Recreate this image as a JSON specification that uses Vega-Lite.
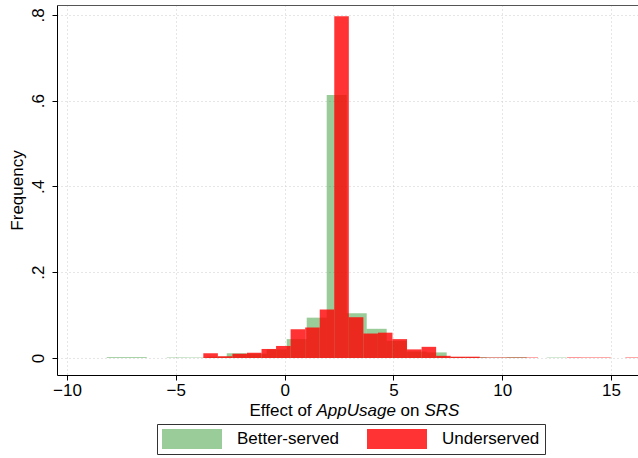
{
  "$schema": "https://vega.github.io/schema/vega-lite/v6.json",
  "width": 581,
  "height": 370,
  "autosize": {"type": "none"},
  "padding": {"left": 57, "top": 5, "right": 0, "bottom": 83},
  "background": "white",
  "config": {"font": "Liberation Sans", "view": {"stroke": null}},
  "data": {
    "values": [
      {"group": "Better-served", "start": -8.174, "end": -7.255, "freq": 0.002},
      {"group": "Better-served", "start": -7.255, "end": -6.336, "freq": 0.002},
      {"group": "Better-served", "start": -5.417, "end": -4.498, "freq": 0.001},
      {"group": "Better-served", "start": -4.498, "end": -3.579, "freq": 0.001},
      {"group": "Better-served", "start": -3.579, "end": -2.660, "freq": 0.003},
      {"group": "Better-served", "start": -2.660, "end": -1.741, "freq": 0.011},
      {"group": "Better-served", "start": -1.741, "end": -0.822, "freq": 0.010},
      {"group": "Better-served", "start": -0.822, "end": 0.097, "freq": 0.020},
      {"group": "Better-served", "start": 0.097, "end": 1.016, "freq": 0.044},
      {"group": "Better-served", "start": 1.016, "end": 1.935, "freq": 0.094},
      {"group": "Better-served", "start": 1.935, "end": 2.854, "freq": 0.613},
      {"group": "Better-served", "start": 2.854, "end": 3.773, "freq": 0.104},
      {"group": "Better-served", "start": 3.773, "end": 4.692, "freq": 0.068},
      {"group": "Better-served", "start": 4.692, "end": 5.611, "freq": 0.040},
      {"group": "Better-served", "start": 5.611, "end": 6.530, "freq": 0.015},
      {"group": "Better-served", "start": 6.530, "end": 7.449, "freq": 0.013},
      {"group": "Better-served", "start": 7.449, "end": 8.368, "freq": 0.002},
      {"group": "Better-served", "start": 8.368, "end": 9.287, "freq": 0.002},
      {"group": "Better-served", "start": 9.287, "end": 10.206, "freq": 0.001},
      {"group": "Better-served", "start": 10.206, "end": 11.125, "freq": 0.002},
      {"group": "Better-served", "start": 12.044, "end": 12.963, "freq": 0.001},
      {"group": "Underserved", "start": -3.736, "end": -3.067, "freq": 0.011},
      {"group": "Underserved", "start": -3.067, "end": -2.399, "freq": 0.004},
      {"group": "Underserved", "start": -2.399, "end": -1.730, "freq": 0.010},
      {"group": "Underserved", "start": -1.730, "end": -1.061, "freq": 0.012},
      {"group": "Underserved", "start": -1.061, "end": -0.393, "freq": 0.021},
      {"group": "Underserved", "start": -0.393, "end": 0.276, "freq": 0.028},
      {"group": "Underserved", "start": 0.276, "end": 0.945, "freq": 0.067},
      {"group": "Underserved", "start": 0.945, "end": 1.614, "freq": 0.071},
      {"group": "Underserved", "start": 1.614, "end": 2.282, "freq": 0.113},
      {"group": "Underserved", "start": 2.282, "end": 2.951, "freq": 0.797},
      {"group": "Underserved", "start": 2.951, "end": 3.620, "freq": 0.095},
      {"group": "Underserved", "start": 3.620, "end": 4.288, "freq": 0.057},
      {"group": "Underserved", "start": 4.288, "end": 4.957, "freq": 0.059},
      {"group": "Underserved", "start": 4.957, "end": 5.626, "freq": 0.044},
      {"group": "Underserved", "start": 5.626, "end": 6.294, "freq": 0.020},
      {"group": "Underserved", "start": 6.294, "end": 6.963, "freq": 0.026},
      {"group": "Underserved", "start": 6.963, "end": 7.632, "freq": 0.005},
      {"group": "Underserved", "start": 7.632, "end": 8.301, "freq": 0.003},
      {"group": "Underserved", "start": 8.301, "end": 8.969, "freq": 0.003},
      {"group": "Underserved", "start": 8.969, "end": 9.638, "freq": 0.001},
      {"group": "Underserved", "start": 9.638, "end": 10.307, "freq": 0.001},
      {"group": "Underserved", "start": 10.307, "end": 10.975, "freq": 0.001},
      {"group": "Underserved", "start": 10.975, "end": 11.644, "freq": 0.001},
      {"group": "Underserved", "start": 12.981, "end": 13.650, "freq": 0.001},
      {"group": "Underserved", "start": 13.650, "end": 14.319, "freq": 0.001},
      {"group": "Underserved", "start": 14.319, "end": 14.987, "freq": 0.001},
      {"group": "Underserved", "start": 15.656, "end": 16.325, "freq": 0.001}
    ]
  },
  "layer": [
    {
      "mark": {"type": "bar", "clip": true},
      "encoding": {
        "x": {
          "field": "start",
          "type": "quantitative",
          "scale": {"domain": [-10.46, 16.24], "nice": false, "zero": false},
          "axis": {
            "values": [-10, -5, 0, 5, 10, 15],
            "labelFontSize": 17,
            "labelColor": "black",
            "labelPadding": 2,
            "labelFlush": false,
            "tickSize": 5,
            "tickColor": "black",
            "domainColor": "black",
            "gridColor": "#cccccc",
            "gridDash": [1, 3],
            "title": null
          }
        },
        "x2": {"field": "end"},
        "y": {
          "field": "freq",
          "type": "quantitative",
          "scale": {"domain": [-0.0397, 0.823], "nice": false, "zero": false},
          "axis": {
            "values": [0, 0.2, 0.4, 0.6, 0.8],
            "labelExpr": "datum.value == 0 ? '0' : replace(format(datum.value, '.1f'), '0.', '.')",
            "labelAngle": -90,
            "labelAlign": "center",
            "labelBaseline": "bottom",
            "labelFontSize": 17,
            "labelColor": "black",
            "labelPadding": 5,
            "tickSize": 5,
            "tickColor": "black",
            "domainColor": "black",
            "gridColor": "#cccccc",
            "gridDash": [1, 3],
            "title": "Frequency",
            "titleFontSize": 17,
            "titleFontWeight": "normal",
            "titleColor": "black",
            "titlePadding": 3
          }
        },
        "y2": {"datum": 0},
        "color": {
          "field": "group",
          "type": "nominal",
          "scale": {"domain": ["Better-served", "Underserved"], "range": ["#008000", "#FF0000"]},
          "legend": {
            "orient": "none",
            "legendX": 100,
            "legendY": 419,
            "direction": "horizontal",
            "title": null,
            "symbolType": "M-3,-1H3V1H-3Z",
            "symbolSize": 400,
            "symbolStrokeWidth": 0,
            "symbolOffset": 20,
            "labelOffset": 35,
            "labelFontSize": 17,
            "labelColor": "black",
            "labelLimit": 300,
            "padding": 5,
            "strokeColor": "#333333",
            "fillColor": "white",
            "columnPadding": 27
          }
        },
        "opacity": {
          "field": "group",
          "type": "nominal",
          "scale": {"domain": ["Better-served", "Underserved"], "range": [0.4, 0.8]}
        }
      }
    },
    {
      "data": {"values": [{"start": 0}]},
      "mark": {"type": "rule", "opacity": 0},
      "encoding": {
        "x": {
          "field": "start",
          "type": "quantitative",
          "axis": {"orient": "top", "labels": false, "ticks": false, "grid": false, "title": null, "domainColor": "#555555"}
        }
      }
    },
    {
      "data": {"values": [{"start": 0}]},
      "mark": {"type": "rule", "opacity": 0},
      "encoding": {
        "x": {
          "field": "start",
          "type": "quantitative",
          "axis": {"orient": "bottom", "labels": false, "ticks": false, "grid": false, "domain": false,
            "title": "Effect of", "titleX": 192, "titleY": 40, "titleAlign": "left", "titleAnchor": null, "titleBaseline": "alphabetic",
            "titleFontSize": 17, "titleFontWeight": "normal", "titleColor": "black"}
        }
      }
    },
    {
      "data": {"values": [{"start": 0}]},
      "mark": {"type": "rule", "opacity": 0},
      "encoding": {
        "x": {
          "field": "start",
          "type": "quantitative",
          "axis": {"orient": "bottom", "labels": false, "ticks": false, "grid": false, "domain": false,
            "title": "AppUsage", "titleX": 259, "titleY": 40, "titleAlign": "left", "titleAnchor": null, "titleBaseline": "alphabetic",
            "titleFontSize": 17, "titleFontWeight": "normal", "titleFontStyle": "italic", "titleColor": "black"}
        }
      }
    },
    {
      "data": {"values": [{"start": 0}]},
      "mark": {"type": "rule", "opacity": 0},
      "encoding": {
        "x": {
          "field": "start",
          "type": "quantitative",
          "axis": {"orient": "bottom", "labels": false, "ticks": false, "grid": false, "domain": false,
            "title": "on", "titleX": 343, "titleY": 40, "titleAlign": "left", "titleAnchor": null, "titleBaseline": "alphabetic",
            "titleFontSize": 17, "titleFontWeight": "normal", "titleColor": "black"}
        }
      }
    },
    {
      "data": {"values": [{"start": 0}]},
      "mark": {"type": "rule", "opacity": 0},
      "encoding": {
        "x": {
          "field": "start",
          "type": "quantitative",
          "axis": {"orient": "bottom", "labels": false, "ticks": false, "grid": false, "domain": false,
            "title": "SRS", "titleX": 367, "titleY": 40, "titleAlign": "left", "titleAnchor": null, "titleBaseline": "alphabetic",
            "titleFontSize": 17, "titleFontWeight": "normal", "titleFontStyle": "italic", "titleColor": "black"}
        }
      }
    }
  ],
  "resolve": {"axis": {"x": "independent"}}
}
